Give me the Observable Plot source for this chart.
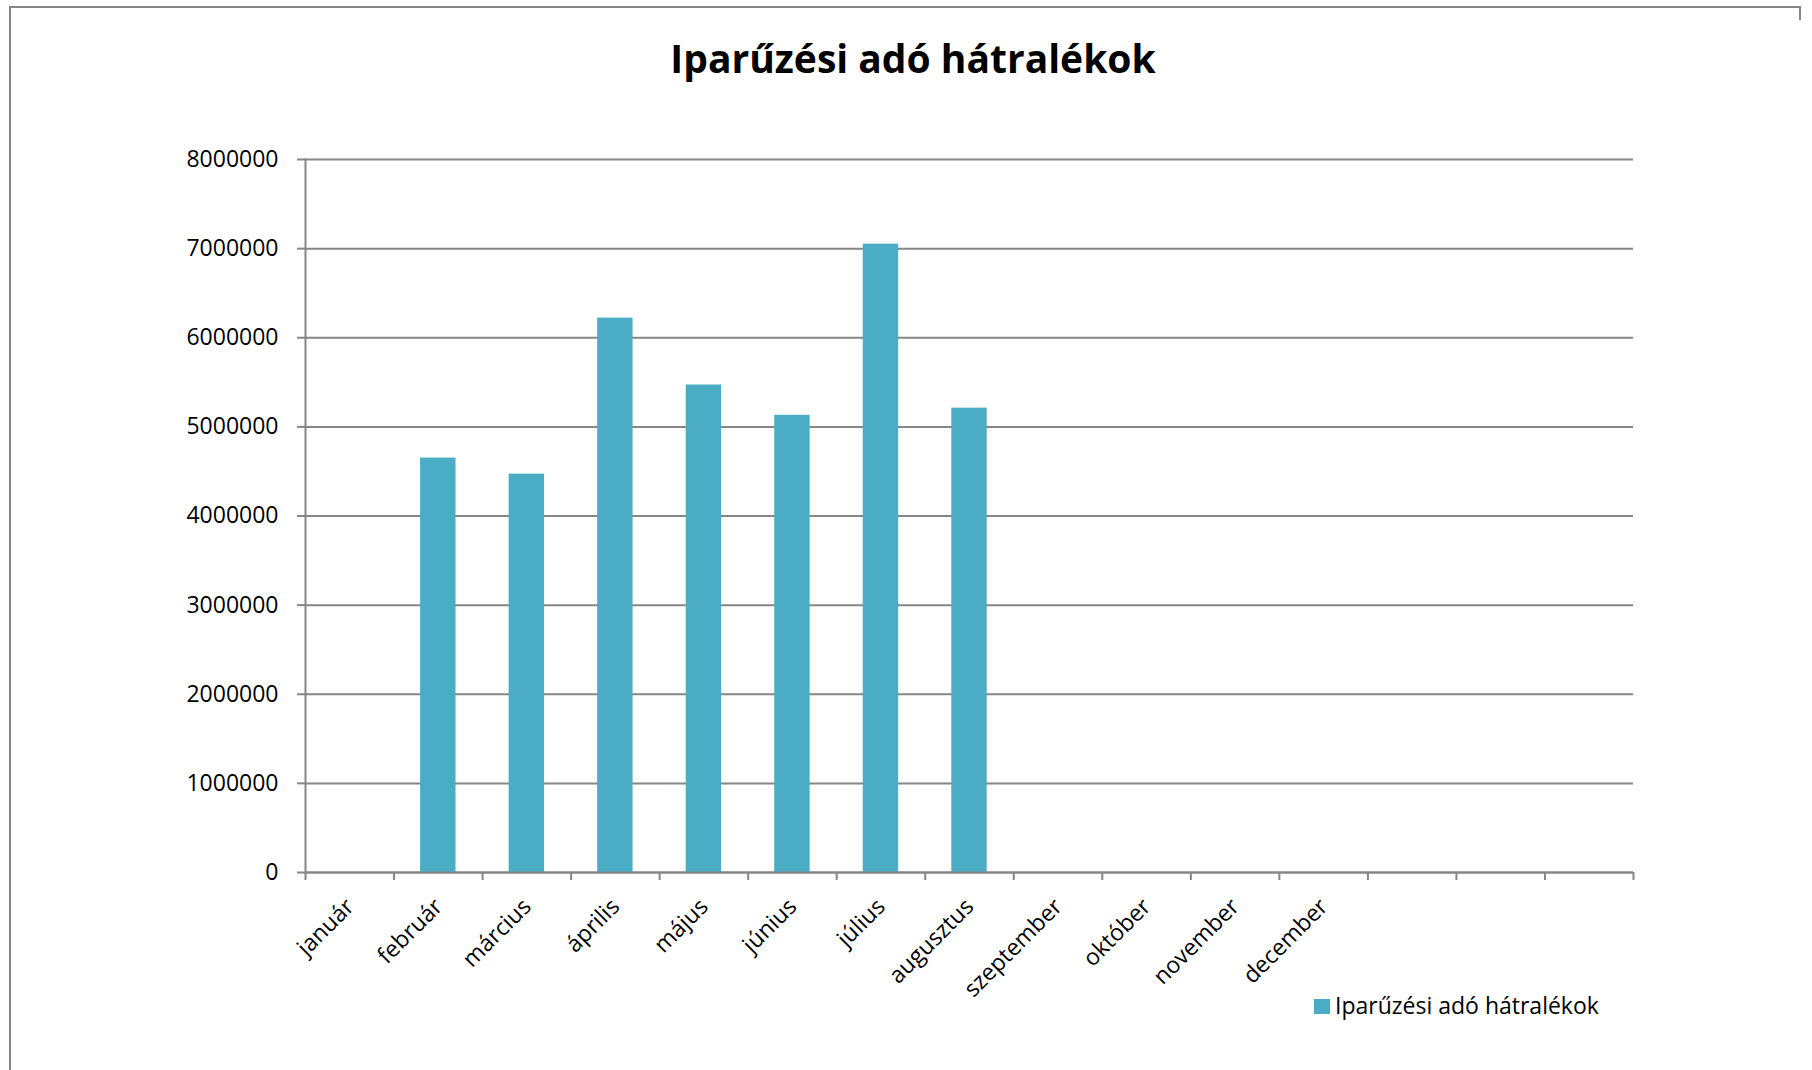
<!DOCTYPE html>
<html>
<head>
<meta charset="utf-8">
<script src="https://cdn.jsdelivr.net/npm/d3@7"></script>
<script src="https://cdn.jsdelivr.net/npm/@observablehq/plot@0.6"></script>
<style>
  html, body { margin: 0; padding: 0; background: #fff; }
  #wrap { position: relative; width: 1812px; height: 1070px; overflow: hidden; background: #fff; font-family: "Open Sans", sans-serif; }
  #border { position: absolute; left: 9px; top: 6px; width: 1790px; height: 1080px; border-left: 2px solid #868686; border-top: 2px solid #868686; }
  #borderR { position: absolute; left: 1799px; top: 6px; width: 2px; height: 14px; background: #868686; }
  #title { position: absolute; left: 913px; top: 38px; transform: translateX(-50%); font-weight: 700; font-size: 39px; line-height: 39px; white-space: nowrap; color: #000; }
  #chart { position: absolute; left: 0; top: 0; }
  #legendSw { position: absolute; left: 1314px; top: 999px; width: 16px; height: 15px; background: #4BACC6; }
  #legendText { position: absolute; left: 1335px; top: 994px; font-size: 23px; line-height: 23px; color: #000; white-space: nowrap; }
</style>
</head>
<body>
<div id="wrap">
  <div id="border"></div>
  <div id="borderR"></div>
  <div id="chart"></div>
  <div id="title"></div>
  <div id="legendSw"></div>
  <div id="legendText"></div>
</div>
<script>
const chartTitle = "Iparűzési adó hátralékok";
const seriesName = "Iparűzési adó hátralékok";
const months = ["január","február","március","április","május","június","július","augusztus","szeptember","október","november","december"];
const unnamedSlots = ["#13","#14","#15"]; // three trailing unlabeled categories
const values = [null, 4650000, 4470000, 6220000, 5470000, 5130000, 7050000, 5210000, null, null, null, null];
const yTicks = [0, 1000000, 2000000, 3000000, 4000000, 5000000, 6000000, 7000000, 8000000];

document.getElementById("title").textContent = chartTitle;
document.getElementById("legendText").textContent = seriesName;

const categories = [...months, ...unnamedSlots];
const data = months.map((m, i) => ({month: m, value: values[i]})).filter(d => d.value != null);

const W = 1812, H = 1070, mL = 305, mR = 179, mT = 159, mB = 198;
const step = (W - mL - mR) / categories.length;
const gray = "#868686";

const chart = Plot.plot({
  width: W, height: H,
  marginTop: mT, marginBottom: mB, marginLeft: mL, marginRight: mR,
  style: {fontFamily: "'Open Sans', sans-serif", fontSize: "23px", color: "#000", background: "transparent", overflow: "visible"},
  x: {type: "band", domain: categories, paddingInner: 0.6, paddingOuter: 0.3, align: 0.5, round: false},
  y: {domain: [0, 8000000]},
  marks: [
    Plot.gridY(yTicks, {stroke: gray, strokeOpacity: 1, strokeWidth: 2}),
    Plot.barY(data, {x: "month", y: "value", fill: "#4BACC6"}),
    Plot.frame({anchor: "left", stroke: gray, strokeWidth: 2}),
    Plot.ruleY([0], {stroke: gray, strokeWidth: 2}),
    Plot.ruleX(categories, {x: d => d, y1: 0, y2: 0, dx: -step / 2, insetBottom: -8, stroke: gray, strokeWidth: 2}),
    Plot.ruleX(categories.slice(-1), {x: d => d, y1: 0, y2: 0, dx: step / 2, insetBottom: -8, stroke: gray, strokeWidth: 2}),
    Plot.axisY({ticks: yTicks, tickSize: 8, tickPadding: 19, tickFormat: d => String(d), stroke: gray, strokeWidth: 2, strokeOpacity: 1, label: null}),
    Plot.axisX({ticks: [], tickSize: 0, label: null}),
    Plot.text(months, {x: d => d, y: () => 0, text: d => d, rotate: -45, textAnchor: "end", lineAnchor: "top", dx: -6, dy: 24, fill: "#000"})
  ]
});
document.getElementById("chart").appendChild(chart);
</script>
</body>
</html>
